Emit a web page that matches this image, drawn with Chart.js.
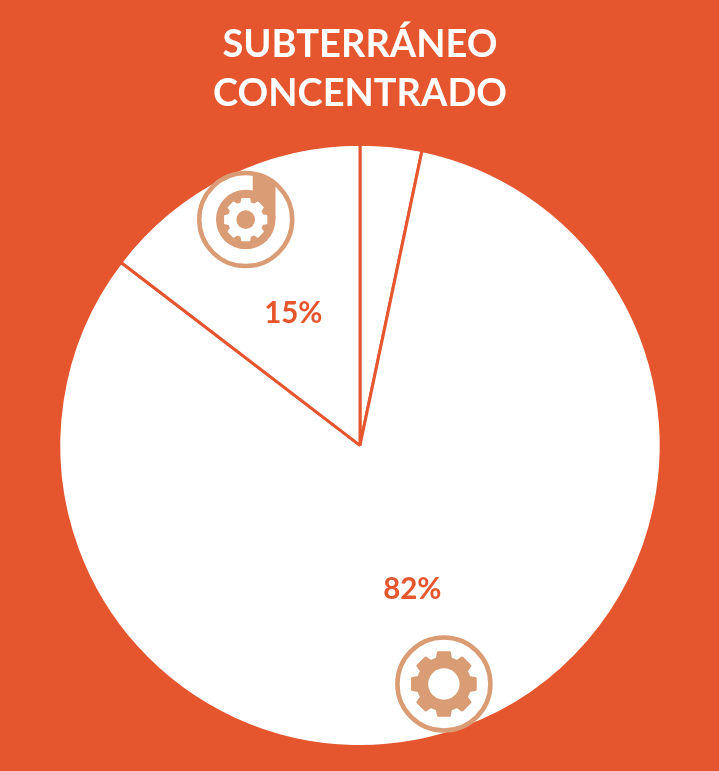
<!DOCTYPE html>
<html>
<head>
<meta charset="utf-8">
<title>Subterráneo concentrado</title>
<script src="https://cdn.jsdelivr.net/npm/chart.js@4/dist/chart.umd.min.js"></script>
<style>
  html, body { margin: 0; padding: 0; background: #e5562f; }
  #wrap { width: 719px; height: 771px; }
</style>
</head>
<body>
<div id="wrap"><canvas id="pieChart"></canvas></div>
<script>
const titleLines = ['SUBTERRÁNEO', 'CONCENTRADO'];
const categories = ['Otros', 'Mecanizado', 'Diseño y mecanizado'];
const shareValues = [3.3, 82.1, 14.6];
const shareLabels = ['', '82%', '15%'];
// 0 = no icon, 1 = plain gear, 2 = gear on the "d" badge
const sliceIcons = [0, 1, 2];

const ORANGE = '#e5562f';
const TAN = '#da9c74';
// Icons don't sit exactly on the slice's mid angle (radians)
const iconNudge = [0, 0.017, -0.01];

// Gear outline with rounded teeth, filled around a hole
function drawGear(ctx, x, y, outer, hole, color, holeColor) {
  const teeth = 8;
  const root = outer * 0.8;
  ctx.beginPath();
  for (let i = 0; i < teeth; i++) {
    const a = (i / teeth) * Math.PI * 2 - Math.PI / 2;
    const step = (Math.PI * 2) / teeth;
    const pts = [
      [root, a - step * 0.33],
      [outer * 0.98, a - step * 0.22],
      [outer * 0.98, a + step * 0.22],
      [root, a + step * 0.33],
    ];
    pts.forEach(([r, t]) => ctx.lineTo(x + Math.cos(t) * r, y + Math.sin(t) * r));
  }
  ctx.closePath();
  ctx.fillStyle = color;
  ctx.strokeStyle = color;
  ctx.lineWidth = outer * 0.09;
  ctx.lineJoin = 'round';
  ctx.fill();
  ctx.stroke();
  ctx.beginPath();
  ctx.arc(x, y, hole, 0, Math.PI * 2);
  ctx.fillStyle = holeColor;
  ctx.fill();
}

function drawRing(ctx, x, y, r) {
  ctx.beginPath();
  ctx.arc(x, y, r, 0, Math.PI * 2);
  ctx.fillStyle = '#ffffff';
  ctx.fill();
  ctx.strokeStyle = TAN;
  ctx.lineWidth = 4.5;
  ctx.stroke();
}

function drawBadge(ctx, x, y, r) {
  drawRing(ctx, x, y, r);
  const blob = r * 0.64;
  ctx.fillStyle = TAN;
  ctx.beginPath();
  ctx.arc(x, y, blob, 0, Math.PI * 2);
  ctx.fill();
  // stem of the "d", running up into the ring and clipped by it
  ctx.save();
  ctx.beginPath();
  ctx.arc(x, y, r, 0, Math.PI * 2);
  ctx.clip();
  ctx.fillRect(x + r * 0.15, y - r, blob - r * 0.15, r);
  ctx.restore();
  drawGear(ctx, x, y, r * 0.46, r * 0.2, '#ffffff', TAN);
}

const sliceDecor = {
  id: 'sliceDecor',
  afterDatasetsDraw(chart) {
    const ctx = chart.ctx;
    chart.getDatasetMeta(0).data.forEach((arc, i) => {
      const mid = (arc.startAngle + arc.endAngle) / 2 + iconNudge[i];
      const iconDist = arc.outerRadius * 0.84;
      const ix = arc.x + Math.cos(mid) * iconDist;
      const iy = arc.y + Math.sin(mid) * iconDist;
      if (sliceIcons[i] === 1) {
        drawRing(ctx, ix, iy, 46.5);
        drawGear(ctx, ix, iy, 32.5, 15.7, TAN, '#ffffff');
      } else if (sliceIcons[i] === 2) {
        drawBadge(ctx, ix, iy, 46.5);
      }
      if (shareLabels[i]) {
        const c = arc.tooltipPosition();
        ctx.fillStyle = ORANGE;
        ctx.font = 'bold 29.5px Lato';
        ctx.textAlign = 'center';
        ctx.textBaseline = 'middle';
        ctx.fillText(shareLabels[i], c.x, c.y + 3);
      }
    });
  },
};

const ctx = document.getElementById('pieChart').getContext('2d');
new Chart(ctx, {
  type: 'pie',
  data: {
    labels: categories,
    datasets: [
      {
        data: shareValues,
        backgroundColor: '#ffffff',
        borderColor: ORANGE,
        borderWidth: 3,
      },
    ],
  },
  options: {
    responsive: true,
    maintainAspectRatio: false,
    animation: false,
    layout: { padding: { bottom: 23, left: 1 } },
    plugins: {
      legend: { display: false },
      tooltip: { enabled: false },
      title: {
        display: true,
        text: titleLines,
        color: '#ffffff',
        font: { family: 'Lato', weight: 'bold', size: 38, lineHeight: 1.29 },
        padding: { top: 20, bottom: 24.6 },
      },
    },
  },
  plugins: [sliceDecor],
});
</script>
</body>
</html>
